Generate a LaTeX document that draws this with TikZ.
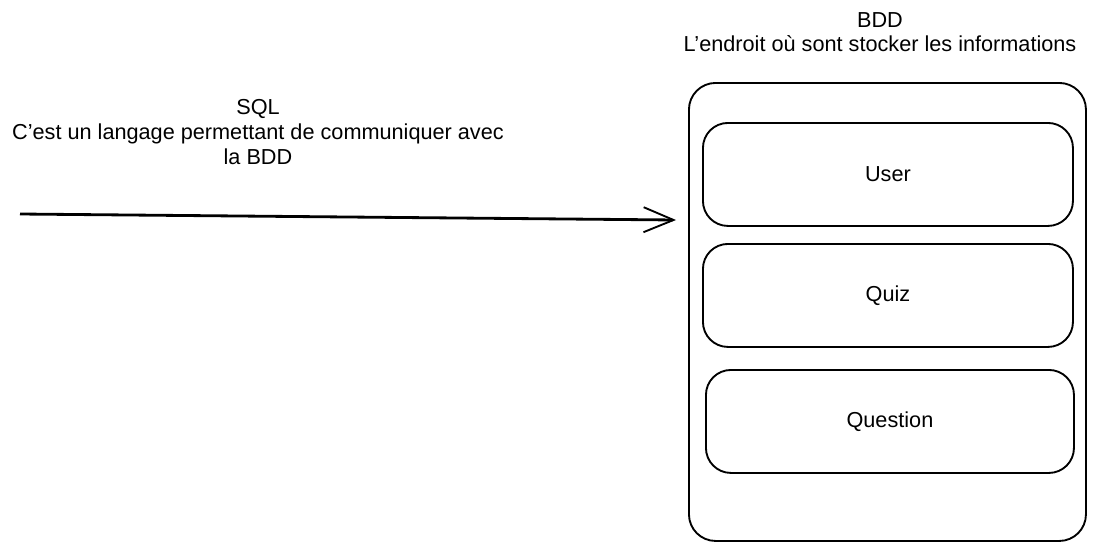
\documentclass[tikz,border=0pt]{standalone}
\usepackage{fontspec}
\setmainfont{Liberation Sans}
\usetikzlibrary{arrows.meta}
\usetikzlibrary{positioning}

\tikzset{
  tablebox/.style={rectangle, draw=black, line width=1.6pt, rounded corners=0.75cm, minimum height=3.09cm, minimum width=11.1cm, anchor=north west, font=\fontsize{18.5}{21}\selectfont},
  caption/.style={align=center, font=\fontsize{18.5}{21}\selectfont}
}

\begin{document}
\begin{tikzpicture}[x=0.03cm, y=-0.03cm]

\useasboundingbox (0,0) rectangle (1097,552);

%% the database
\node at (688,82) [rectangle, draw=black, line width=1.6pt, rounded corners=0.8cm, minimum height=13.74cm, minimum width=11.91cm, anchor=north west] (bdd) {};
\node [caption] at (880,32) (bddlabel) {BDD\\L'endroit où sont stocker les informations};

\node at (702,122) [tablebox] (user) {User};
\node at (702,243) [tablebox] (quiz) {Quiz};
\node at (705,369) [tablebox, minimum width=11.04cm] (question) {Question};

%% the query language
\coordinate (sqlstart) at (20,214);
\coordinate (sqlend) at (676,220);
\node [caption] at (258,132) (sqllabel) {SQL\\C'est un langage permettant de communiquer avec\\la BDD};

\begin{scope}[>={Straight Barb[length=0.9cm, width=0.75cm, line width=1.6pt]}]
	\draw [line width=2.4pt, ->] (sqlstart) -- (sqlend);
\end{scope}

\end{tikzpicture}
\end{document}
